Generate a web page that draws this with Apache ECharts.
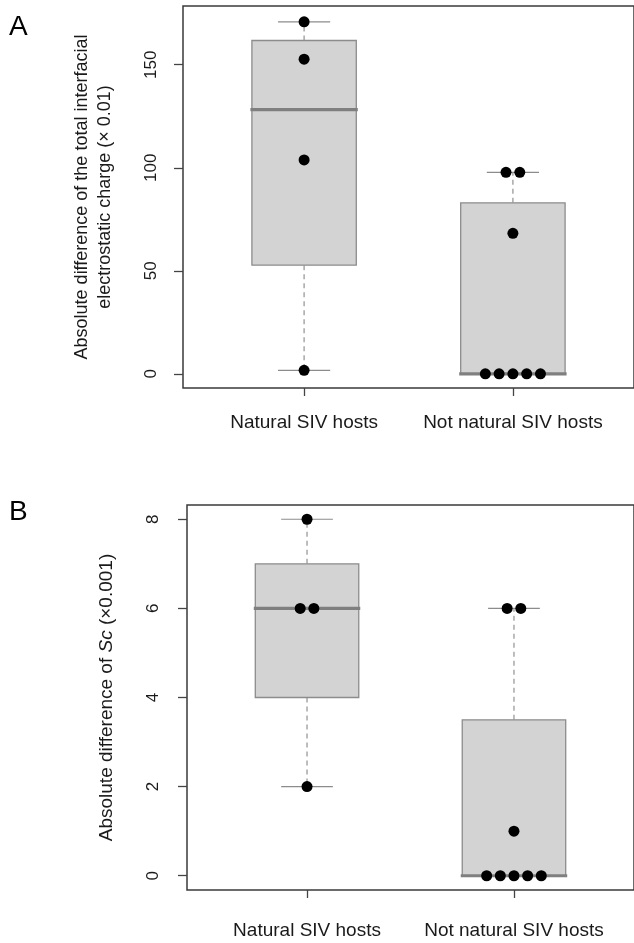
<!DOCTYPE html>
<html>
<head>
<meta charset="utf-8">
<script src="https://cdn.jsdelivr.net/npm/echarts@6/dist/echarts.min.js"></script>
<style>
  html, body { margin: 0; padding: 0; background: #fff; }
  #chart { width: 634px; height: 943px; }
</style>
</head>
<body>
<div id="chart"></div>
<script>
// categories
const groups = ['Natural SIV hosts', 'Not natural SIV hosts'];

// panel A: absolute difference of total interfacial electrostatic charge (x 0.01)
const chargeNatural = [170.8, 152.7, 103.8, 1.7];
const chargeNotNatural = [97.8, 97.8, 68.2, 0, 0, 0, 0, 0];
const chargeTicks = [0, 50, 100, 150];

// panel B: absolute difference of Sc (x 0.001)
const scNatural = [8, 6, 6, 2];
const scNotNatural = [6, 6, 1, 0, 0, 0, 0, 0];
const scTicks = [0, 2, 4, 6, 8];

const FONT = 'Liberation Sans, Arial, Helvetica, sans-serif';

// Tukey five number summary, same as R's fivenum (used by boxplot)
function fivenum(arr) {
  const x = arr.slice().sort((a, b) => a - b);
  const n = x.length;
  const n4 = Math.floor((n + 3) / 2) / 2;
  const d = [1, n4, (n + 1) / 2, n + 1 - n4, n];
  return d.map(v => 0.5 * (x[Math.floor(v) - 1] + x[Math.ceil(v) - 1]));
}

// spread equal values sideways, like a small beeswarm
function swarm(values, pos) {
  const seen = {};
  values.forEach(v => { seen[v] = (seen[v] || 0) + 1; });
  const used = {};
  const out = [];
  values.forEach(v => {
    const n = seen[v];
    const i = used[v] || 0;
    used[v] = i + 1;
    out.push([pos + (i - (n - 1) / 2) * 0.066, v]);
  });
  return out;
}

function boxRender(params, api) {
  const x = api.value(0);
  const lo = api.value(1), q1 = api.value(2), med = api.value(3), q3 = api.value(4), hi = api.value(5);
  const bw = 0.25, cw = 0.125;
  const tl = api.coord([x - bw, q3]);
  const br = api.coord([x + bw, q1]);
  const pHi = api.coord([x, hi]);
  const pLo = api.coord([x, lo]);
  const pQ3 = api.coord([x, q3]);
  const pQ1 = api.coord([x, q1]);
  const capL = api.coord([x - cw, 0])[0];
  const capR = api.coord([x + cw, 0])[0];
  const mL = api.coord([x - bw, med]);
  const mR = api.coord([x + bw, med]);
  const dash = { stroke: '#9a9a9a', lineWidth: 1.3, lineDash: [5, 4] };
  const cap = { stroke: '#8c8c8c', lineWidth: 1.2 };
  const children = [
    { type: 'line', shape: { x1: pQ3[0], y1: pQ3[1], x2: pHi[0], y2: pHi[1] }, style: dash },
    { type: 'line', shape: { x1: pQ1[0], y1: pQ1[1], x2: pLo[0], y2: pLo[1] }, style: dash },
    { type: 'line', shape: { x1: capL, y1: pHi[1], x2: capR, y2: pHi[1] }, style: cap },
    { type: 'line', shape: { x1: capL, y1: pLo[1], x2: capR, y2: pLo[1] }, style: cap },
    { type: 'rect', shape: { x: tl[0], y: tl[1], width: br[0] - tl[0], height: br[1] - tl[1] },
      style: { fill: '#d3d3d3', stroke: '#8c8c8c', lineWidth: 1.3 } },
    { type: 'line', shape: { x1: mL[0] - 1.5, y1: mL[1], x2: mR[0] + 1.5, y2: mR[1] },
      style: { stroke: '#7f7f7f', lineWidth: 3.2 } }
  ];
  return { type: 'group', children: children };
}

function boxData(lists) {
  return lists.map((vals, i) => {
    const f = fivenum(vals);
    return [i + 1, f[0], f[1], f[2], f[3], f[4]];
  });
}

function yAxisFor(gridIndex, min, max, ticks, name, nameGap, labelMargin, nameStyle) {
  return {
    type: 'value', gridIndex: gridIndex, min: min, max: max,
    axisLine: { show: false, onZero: false },
    splitLine: { show: false },
    axisTick: { show: true, length: 9, customValues: ticks, lineStyle: { color: '#444', width: 1.3 } },
    axisLabel: { customValues: ticks, rotate: 90, margin: labelMargin, fontSize: 17, color: '#1a1a1a', fontFamily: FONT },
    name: name, nameLocation: 'middle', nameRotate: 90, nameGap: nameGap,
    nameTextStyle: nameStyle
  };
}

function xAxisFor(gridIndex, labelMargin) {
  return {
    type: 'value', gridIndex: gridIndex, min: 0.42, max: 2.58,
    axisLine: { show: false, onZero: false },
    splitLine: { show: false },
    axisTick: { show: true, length: 8, customValues: [1, 2], lineStyle: { color: '#444', width: 1.3 } },
    axisLabel: {
      customValues: [1, 2], margin: labelMargin, fontSize: 19, color: '#1a1a1a', fontFamily: FONT,
      formatter: v => groups[Math.round(v) - 1]
    }
  };
}

const chart = echarts.init(document.getElementById('chart'), null, { renderer: 'canvas' });

const option = {
  animation: false,
  backgroundColor: '#fff',
  grid: [
    { left: 183, top: 6, right: -7, bottom: 943 - 388, show: true, borderColor: '#3a3a3a', borderWidth: 1.5, backgroundColor: 'transparent' },
    { left: 187, top: 505, right: -8, bottom: 943 - 890, show: true, borderColor: '#3a3a3a', borderWidth: 1.5, backgroundColor: 'transparent' }
  ],
  xAxis: [xAxisFor(0, 25), xAxisFor(1, 31)],
  yAxis: [
    yAxisFor(0, -6.86, 178.5, chargeTicks,
      'Absolute difference of the total interfacial\nelectrostatic charge (\u00d7 0.01)', 66, 23,
      { fontSize: 18, color: '#1a1a1a', fontFamily: FONT, lineHeight: 23 }),
    yAxisFor(1, -0.32, 8.32, scTicks,
      '{n|Absolute difference of }{i|Sc}{n| (\u00d70.001)}', 71, 25,
      { fontSize: 19, color: '#1a1a1a', fontFamily: FONT,
        rich: {
          n: { fontSize: 19, color: '#1a1a1a', fontFamily: FONT },
          i: { fontSize: 19, color: '#1a1a1a', fontFamily: FONT, fontStyle: 'italic' }
        } })
  ],
  graphic: [
    { type: 'text', left: 9, top: 13, style: { text: 'A', fontSize: 28, fontFamily: FONT, fill: '#000' } },
    { type: 'text', left: 9, top: 498, style: { text: 'B', fontSize: 28, fontFamily: FONT, fill: '#000' } }
  ],
  series: [
    { type: 'custom', xAxisIndex: 0, yAxisIndex: 0, renderItem: boxRender,
      data: boxData([chargeNatural, chargeNotNatural]), z: 2, silent: true },
    { type: 'scatter', xAxisIndex: 0, yAxisIndex: 0, symbolSize: 11, z: 3,
      itemStyle: { color: '#000', opacity: 1 },
      data: swarm(chargeNatural, 1).concat(swarm(chargeNotNatural, 2)) },
    { type: 'custom', xAxisIndex: 1, yAxisIndex: 1, renderItem: boxRender,
      data: boxData([scNatural, scNotNatural]), z: 2, silent: true },
    { type: 'scatter', xAxisIndex: 1, yAxisIndex: 1, symbolSize: 11, z: 3,
      itemStyle: { color: '#000', opacity: 1 },
      data: swarm(scNatural, 1).concat(swarm(scNotNatural, 2)) }
  ]
};

chart.setOption(option);
</script>
</body>
</html>
